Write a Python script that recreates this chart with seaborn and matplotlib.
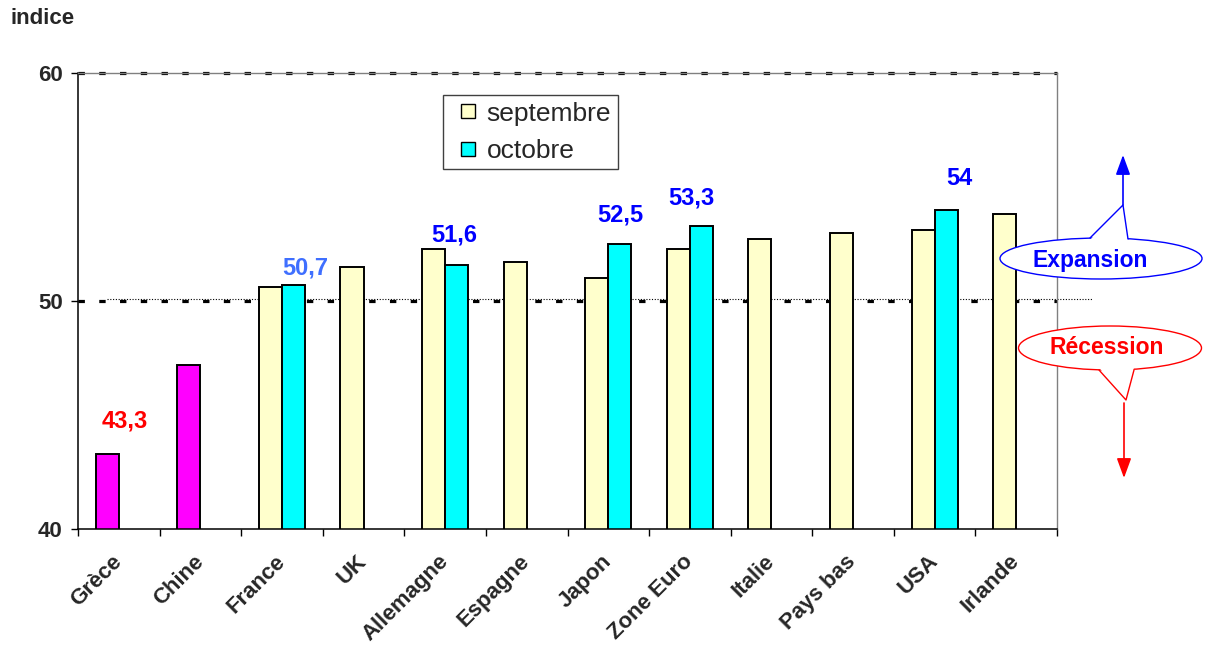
import numpy as np
import pandas as pd
import matplotlib.pyplot as plt
import seaborn as sns
from matplotlib.patches import Ellipse, Polygon, FancyArrowPatch
from matplotlib.lines import Line2D

# Indices
pays = ["Grèce", "Chine", "France", "UK", "Allemagne", "Espagne",
        "Japon", "Zone Euro", "Italie", "Pays bas", "USA", "Irlande"]
septembre = [43.3, 47.2, 50.6, 51.5, 52.3, 51.7, 51.0, 52.3, 52.7, 53.0, 53.1, 53.8]
octobre = [None, None, 50.7, None, 51.6, None, 52.5, 53.3, None, None, 54.0, None]
mois = ["septembre", "octobre"]
pays_magenta = ["Grèce", "Chine"]

# Etiquettes de valeur
etiq_pays = ["Grèce", "France", "Allemagne", "Japon", "Zone Euro", "USA"]
etiq_mois = ["septembre", "octobre", "octobre", "octobre", "octobre", "octobre"]
etiq_couleurs = ["#FF0000", "#3F6FFF", "#0000FF", "#0000FF", "#0000FF", "#0000FF"]
etiq_dx = [0.22, 0.15, -0.03, 0.01, -0.12, 0.16]
etiq_dy = [1.45, 0.73, 1.29, 1.27, 1.22, 1.39]

couleurs = {"septembre": "#FFFFCC", "octobre": "#00FFFF"}
BAR_W = 0.565

# -------------------- DATA --------------------
rows = []
for p, s, o in zip(pays, septembre, octobre):
    rows.append((p, "septembre", s))
    if o is not None:
        rows.append((p, "octobre", o))
df = pd.DataFrame(rows, columns=["pays", "mois", "indice"])

# -------------------- FIGURE --------------------
sns.set_style("ticks")
plt.rcParams["font.family"] = ["Liberation Sans", "DejaVu Sans"]

W, H = 1207, 648
fig = plt.figure(figsize=(W / 100, H / 100), dpi=100)
ax = fig.add_axes([78 / W, 1 - 529 / H, 979 / W, (529 - 73) / H])


def fx(x):
    return x / W


def fy(y):
    return 1 - y / H


sns.barplot(data=df, x="pays", y="indice", hue="mois", order=pays, hue_order=mois,
            palette=couleurs, width=BAR_W, saturation=1, edgecolor="black",
            linewidth=1.4, errorbar=None, legend=False, ax=ax, zorder=2)

for bar in ax.patches:
    idx = int(round(bar.get_x() + bar.get_width() / 2))
    if pays[idx] in pays_magenta:
        bar.set_facecolor("#FF00FF")

ax.set_xlim(-0.5, len(pays) - 0.5)
ax.set_ylim(40, 60)
ax.set_yticks([40, 50, 60])
ax.set_xlabel("")
ax.set_ylabel("")

# reference lines
ax.axhline(50, color="black", lw=2.3, dashes=(2.0, 4.5), zorder=1)
ax.axhline(60, color="black", lw=2.3, dashes=(2.0, 4.5), zorder=1, clip_on=False)
ax.plot([0.03, 1.036], [50.09, 50.09], transform=ax.get_yaxis_transform(),
        color="black", lw=0.8, linestyle=(0, (1, 1.5)), clip_on=False, zorder=1)

# spines
for s in ["top", "right"]:
    ax.spines[s].set_color("#808080")
    ax.spines[s].set_linewidth(1)
for s in ["left", "bottom"]:
    ax.spines[s].set_color("black")
    ax.spines[s].set_linewidth(1.1)

# ticks
ax.set_xticks(range(len(pays)))
ax.set_xticklabels(pays, fontsize=16, fontweight="bold")
ax.set_xticks(np.arange(-0.5, len(pays), 1), minor=True)
ax.tick_params(axis="x", which="major", length=0, pad=21)
ax.tick_params(axis="x", which="minor", length=5, width=1, direction="out", color="black")
for lab in ax.get_xticklabels():
    lab.set_rotation(45)
    lab.set_ha("right")
    lab.set_va("center")
    lab.set_rotation_mode("anchor")
ax.tick_params(axis="y", length=5, width=1, direction="out", pad=6, color="black")
for lab in ax.get_yticklabels():
    lab.set_fontsize(16)
    lab.set_fontweight("bold")

# value labels
off = BAR_W / 4
for p, m, c, dx, dy in zip(etiq_pays, etiq_mois, etiq_couleurs, etiq_dx, etiq_dy):
    i = pays.index(p)
    v = septembre[i] if m == "septembre" else octobre[i]
    xb = i - off if m == "septembre" else i + off
    ax.text(xb + dx, v + dy, f"{v:g}".replace(".", ","), color=c, fontsize=17,
            fontweight="bold", ha="center", va="center")

# legend
handles = [Line2D([], [], linestyle="none", marker="s", markersize=10,
                  markerfacecolor=couleurs[m], markeredgecolor="black",
                  markeredgewidth=1) for m in mois]
leg = ax.legend(handles, mois, loc="upper left", bbox_to_anchor=(0.3728, 0.9518),
                borderaxespad=0, fontsize=19, frameon=True, fancybox=False,
                handlelength=1.4, handletextpad=0.0,
                labelspacing=0.5, borderpad=0.25)
leg.get_frame().set_edgecolor("#404040")
leg.get_frame().set_linewidth(1)
leg.get_frame().set_alpha(1)

fig.text(fx(10), fy(18), "indice", fontsize=16, fontweight="bold", ha="left", va="center")

# -------------------- EXPANSION / RECESSION --------------------
bleu, rouge = "#0000FF", "#FF0000"

fig.add_artist(FancyArrowPatch((fx(1123), fy(205)), (fx(1123), fy(155)),
                               transform=fig.transFigure, arrowstyle="-|>,head_length=0.6,head_width=0.22",
                               mutation_scale=20, color=bleu, lw=1.2, shrinkA=0, shrinkB=0))
fig.add_artist(Ellipse((fx(1101), fy(258.5)), 202 / W, 41 / H, transform=fig.transFigure,
                       facecolor="white", edgecolor=bleu, lw=1))
fig.add_artist(Polygon([(fx(1090), fy(240)), (fx(1123), fy(205)), (fx(1128), fy(240))],
                       closed=True, transform=fig.transFigure, facecolor="white", edgecolor="none"))
fig.add_artist(Line2D([fx(1090), fx(1123), fx(1128)], [fy(238), fy(205), fy(239)],
                      transform=fig.transFigure, color=bleu, lw=1))
fig.text(fx(1090), fy(260), "Expansion", color=bleu, fontsize=16.5, fontweight="bold",
         ha="center", va="center")

fig.add_artist(FancyArrowPatch((fx(1124), fy(403)), (fx(1124), fy(478)),
                               transform=fig.transFigure, arrowstyle="-|>,head_length=0.6,head_width=0.22",
                               mutation_scale=20, color=rouge, lw=1.2, shrinkA=0, shrinkB=0))
fig.add_artist(Ellipse((fx(1110), fy(348)), 183 / W, 44 / H, transform=fig.transFigure,
                       facecolor="white", edgecolor=rouge, lw=1))
fig.add_artist(Polygon([(fx(1099), fy(367.5)), (fx(1126), fy(400)), (fx(1134), fy(367.5))],
                       closed=True, transform=fig.transFigure, facecolor="white", edgecolor="none"))
fig.add_artist(Line2D([fx(1099), fx(1126), fx(1134)], [fy(370), fy(400), fy(370)],
                      transform=fig.transFigure, color=rouge, lw=1))
fig.text(fx(1107), fy(347), "Récession", color=rouge, fontsize=16.5, fontweight="bold",
         ha="center", va="center")

fig.savefig("out.png", dpi=100)
